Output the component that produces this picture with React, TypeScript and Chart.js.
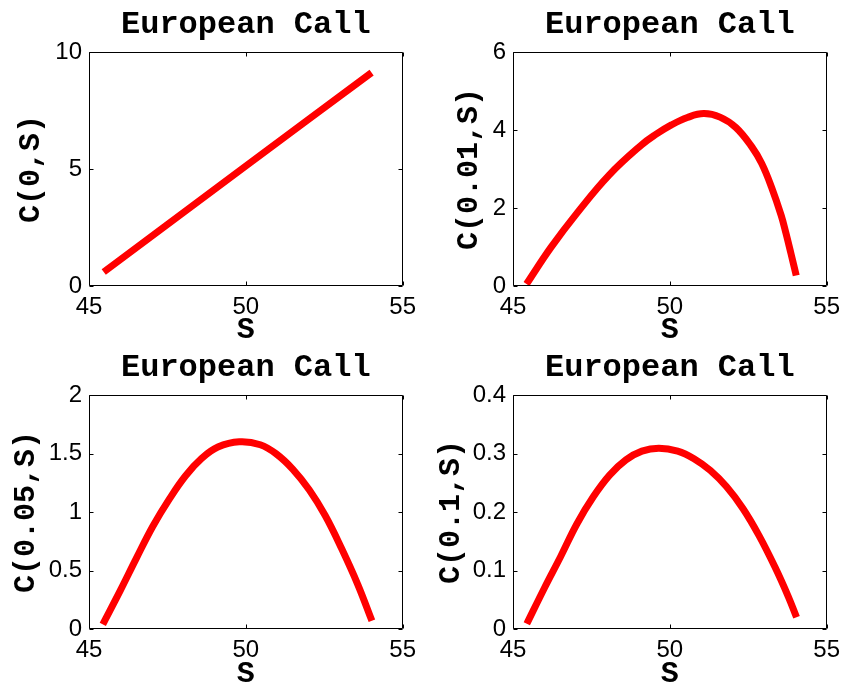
import React, { useEffect, useRef } from "react";
import { Chart, registerables } from "chart.js";

Chart.register(...registerables);

// ---------- data ----------
const TITLE = "European Call";
const X_LABEL = "S";
const X_MIN = 45;
const X_MAX = 55;
const X_STEP = 5;

const Y_LABELS = ["C(0,S)", "C(0.01,S)", "C(0.05,S)", "C(0.1,S)"];
const Y_MAX = [10, 6, 2, 0.4];
const Y_STEP = [5, 2, 0.5, 0.1];

const S_T0 = [45.47, 50.0, 54.01];
const C_T0 = [0.6, 5.13, 9.12];

const S_T001 = [45.43, 46.21, 47.04, 48.07, 49.1, 49.54, 50.05, 50.56, 51.08, 51.6, 52.11, 52.62, 52.93, 53.24, 53.55, 53.7, 53.86, 54.03];
const C_T001 = [0.05, 0.99, 1.87, 2.85, 3.62, 3.88, 4.13, 4.32, 4.42, 4.33, 4.06, 3.56, 3.14, 2.54, 1.81, 1.36, 0.84, 0.27];

const S_T005 = [45.44, 46.0, 46.52, 47.04, 47.56, 48.08, 48.6, 49.11, 49.79, 50.46, 50.98, 51.5, 52.02, 52.53, 53.05, 53.57, 54.02];
const C_T005 = [0.04, 0.33, 0.61, 0.88, 1.11, 1.31, 1.46, 1.555, 1.6, 1.575, 1.495, 1.365, 1.19, 0.97, 0.69, 0.38, 0.07];

const S_T01 = [45.44, 46.01, 46.52, 47.04, 47.56, 48.08, 48.6, 49.11, 49.65, 50.25, 50.77, 51.29, 51.81, 52.33, 52.84, 53.36, 53.78, 54.04];
const C_T01 = [0.009, 0.071, 0.124, 0.18, 0.226, 0.263, 0.289, 0.304, 0.309, 0.304, 0.291, 0.271, 0.243, 0.206, 0.16, 0.105, 0.055, 0.02];

const SERIES_S = [S_T0, S_T001, S_T005, S_T01];
const SERIES_C = [C_T0, C_T001, C_T005, C_T01];

// ---------- layout (page pixels) ----------
const PANELS = [
  { cx: 0, cy: 0, cw: 425, ch: 345, L: 89, T: 52, R: 412, B: 286, yPad: 16 },
  { cx: 425, cy: 0, cw: 424, ch: 345, L: 513, T: 52, R: 837, B: 286, yPad: 29 },
  { cx: 0, cy: 345, cw: 425, ch: 344, L: 89, T: 395, R: 412, B: 629, yPad: 11 },
  { cx: 425, cy: 345, cw: 424, ch: 344, L: 513, T: 395, R: 837, B: 629, yPad: 11 },
];

const MONO = '"Liberation Mono", "Courier New", monospace';
const SANS = '"Liberation Sans", Arial, Helvetica, sans-serif';

const fmt = (v: any) => String(Number(Number(v).toFixed(6)));

const framePlugin = {
  id: "matlabFrame",
  afterDatasetsDraw(chart: any, _args: any, opts: any) {
    const { ctx, chartArea: a } = chart;
    const xs = chart.scales.x;
    const ys = chart.scales.y;
    ctx.save();
    ctx.strokeStyle = "#000";
    ctx.lineWidth = 1;
    const l = Math.round(a.left) + 0.5;
    const r = Math.round(a.right) - 0.5;
    const t = Math.round(a.top) + 0.5;
    const b = Math.round(a.bottom) - 0.5;
    ctx.beginPath();
    ctx.rect(l, t, r - l, b - t);
    const tl = 4;
    xs.ticks.forEach((tk: any) => {
      const px = Math.round(xs.getPixelForValue(tk.value)) + 0.5;
      ctx.moveTo(px, b);
      ctx.lineTo(px, b - tl);
      ctx.moveTo(px, t);
      ctx.lineTo(px, t + tl);
    });
    ys.ticks.forEach((tk: any) => {
      const py = Math.round(ys.getPixelForValue(tk.value)) + 0.5;
      ctx.moveTo(l, py);
      ctx.lineTo(l + tl, py);
      ctx.moveTo(r, py);
      ctx.lineTo(r - tl, py);
    });
    ctx.stroke();
    ctx.fillStyle = "#000";
    ctx.font = `bold 32px ${MONO}`;
    ctx.textAlign = "center";
    ctx.textBaseline = "middle";
    ctx.fillText(opts.title, (a.left + a.right) / 2, a.top - 27);
    ctx.restore();
  },
};

function Panel({ idx }: { idx: number }) {
  const ref = useRef<HTMLCanvasElement | null>(null);
  const p = PANELS[idx];
  useEffect(() => {
    if (!ref.current) return;
    const pts = SERIES_S[idx].map((s, i) => ({ x: s, y: SERIES_C[idx][i] }));
    const chart = new Chart(ref.current, {
      type: "line",
      data: {
        datasets: [
          {
            data: pts,
            borderColor: "#ff0000",
            backgroundColor: "#ff0000",
            borderWidth: 7,
            pointRadius: 0,
            fill: false,
            tension: 0.4,
            borderCapStyle: "butt",
            borderJoinStyle: "round",
          },
        ],
      },
      options: {
        responsive: false,
        animation: false,
        events: [],
        layout: {
          padding: { left: 0, top: p.T - p.cy, right: p.cx + p.cw - p.R, bottom: 0 },
        },
        plugins: {
          legend: { display: false },
          tooltip: { enabled: false },
          matlabFrame: { title: TITLE },
        } as any,
        scales: {
          x: {
            type: "linear",
            min: X_MIN,
            max: X_MAX,
            grid: { display: false, drawTicks: false },
            border: { display: false },
            ticks: {
              stepSize: X_STEP,
              maxRotation: 0,
              autoSkip: false,
              padding: 9,
              color: "#000",
              callback: fmt,
              font: { family: SANS, size: 24, lineHeight: 1 },
            },
            title: {
              display: true,
              text: X_LABEL,
              color: "#000",
              padding: { top: 0, bottom: 0 },
              font: { family: MONO, size: 30, weight: "bold", lineHeight: 1 },
            },
            afterFit: (s: any) => {
              s.height = p.cy + p.ch - p.B;
            },
          },
          y: {
            type: "linear",
            min: 0,
            max: Y_MAX[idx],
            grid: { display: false, drawTicks: false },
            border: { display: false },
            ticks: {
              stepSize: Y_STEP[idx],
              autoSkip: false,
              padding: 7,
              color: "#000",
              callback: fmt,
              font: { family: SANS, size: 24, lineHeight: 1 },
            },
            title: {
              display: true,
              text: Y_LABELS[idx],
              color: "#000",
              padding: { top: p.yPad, bottom: 0 },
              font: { family: MONO, size: 30, weight: "bold", lineHeight: 1 },
            },
            afterFit: (s: any) => {
              s.width = p.L - p.cx;
            },
          },
        },
      } as any,
      plugins: [framePlugin as any],
    });
    return () => chart.destroy();
  }, [idx]);
  return (
    <canvas
      ref={ref}
      width={p.cw}
      height={p.ch}
      style={{ position: "absolute", left: p.cx, top: p.cy, width: p.cw, height: p.ch }}
    />
  );
}

export default function App() {
  return (
    <div
      style={{
        position: "fixed",
        left: 0,
        top: 0,
        width: 849,
        height: 689,
        background: "#fff",
        overflow: "hidden",
      }}
    >
      {[0, 1, 2, 3].map((i) => (
        <Panel key={i} idx={i} />
      ))}
    </div>
  );
}
